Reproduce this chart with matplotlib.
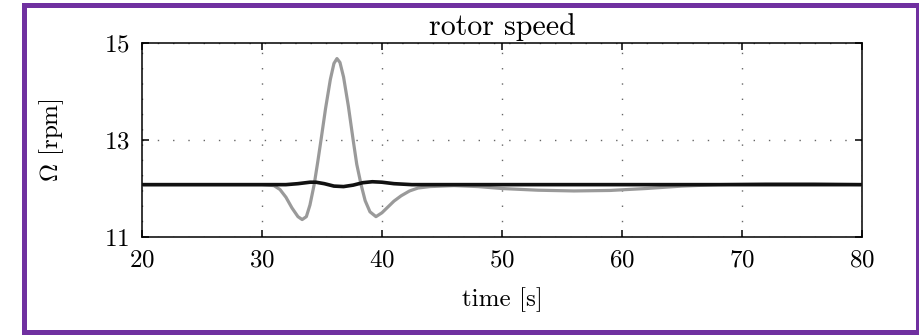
"""Rotor speed response plot."""
import matplotlib as mpl
import matplotlib.pyplot as plt
from matplotlib.patches import Rectangle

time_1 = [20.0, 30.0, 31.0, 31.5, 32.0, 32.5, 33.0, 33.35, 33.7, 34.0, 34.35,
          34.65, 34.95, 35.3, 35.7, 36.0, 36.25, 36.5, 36.8, 37.2, 37.6, 37.9,
          38.26, 38.6, 39.0, 39.5, 40.0, 40.5, 41.0, 41.6, 42.3, 43.0, 44.0,
          46.0, 48.0, 50.0, 53.0, 56.0, 59.0, 62.0, 65.0, 68.0, 72.0, 76.0, 80.0]
omega_1 = [12.08, 12.08, 12.06, 11.98, 11.82, 11.6, 11.42, 11.36, 11.42, 11.66, 12.08,
           12.55, 13.05, 13.65, 14.25, 14.58, 14.68, 14.6, 14.3, 13.7, 13.0, 12.5,
           12.08, 11.75, 11.52, 11.42, 11.5, 11.62, 11.74, 11.85, 11.95, 12.01, 12.04,
           12.06, 12.04, 12.0, 11.965, 11.95, 11.96, 12.0, 12.05, 12.08, 12.1, 12.1, 12.08]

time_2 = [20.0, 32.0, 33.0, 34.0, 34.5, 35.2, 36.0, 36.8, 37.6, 38.4, 39.2,
          40.0, 41.0, 42.5, 80.0]
omega_2 = [12.08, 12.08, 12.1, 12.13, 12.13, 12.1, 12.05, 12.04, 12.07, 12.12, 12.14,
           12.13, 12.1, 12.08, 12.08]

x_ticks = [20, 30, 40, 50, 60, 70, 80]
y_ticks = [11, 13, 15]

COLORS = {
    "trace_1": "#9a9a9a",
    "trace_2": "#111111",
    "grid": "#666666",
    "frame": "#7030A0",
}

mpl.rcParams.update(
    {
        "font.family": ["cmr10", "DejaVu Serif"],
        "mathtext.fontset": "cm",
        "axes.formatter.use_mathtext": True,
        "font.size": 18,
        "axes.linewidth": 1.1,
    }
)

fig = plt.figure(figsize=(9.2, 3.35), dpi=100)
ax = fig.add_axes([0.1543, 0.2925, 0.7826, 0.579])

ax.plot(time_1, omega_1, color=COLORS["trace_1"], linewidth=2.3, zorder=3)
ax.plot(time_2, omega_2, color=COLORS["trace_2"], linewidth=2.6, zorder=4)

ax.set_xlim(20, 80)
ax.set_ylim(11, 15)
ax.set_xticks(x_ticks)
ax.set_yticks(y_ticks)
ax.tick_params(direction="in", top=True, right=True, length=5, width=1.1)
ax.tick_params(axis="x", pad=9)
ax.tick_params(axis="y", pad=9)
ax.grid(True, color=COLORS["grid"], linestyle=(0, (1.0, 10.0)), linewidth=1.0)
ax.set_axisbelow(True)

ax.set_title("rotor speed", pad=6)
ax.set_xlabel("time [s]")
ax.set_ylabel(r"$\Omega$ [rpm]")
ax.xaxis.set_label_coords(0.5, -0.26)
ax.yaxis.set_label_coords(-0.105, 0.5)

# outer coloured border around the whole figure
fig.patches.append(
    Rectangle((0.0266, 0.0075), 0.9707, 0.9761, transform=fig.transFigure,
              fill=False, edgecolor=COLORS["frame"], linewidth=3.6)
)

fig.savefig("out.png", dpi=100)
